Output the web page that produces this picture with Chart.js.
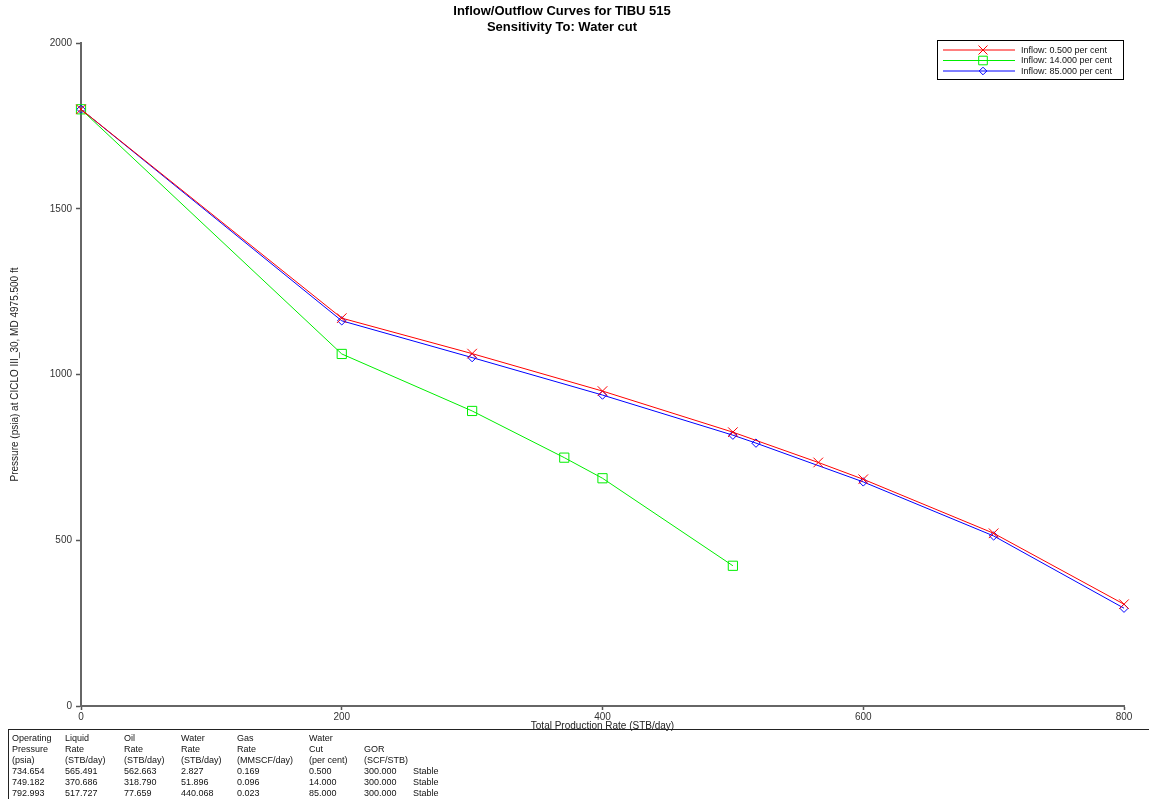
<!DOCTYPE html>
<html><head><meta charset="utf-8">
<script src="https://cdn.jsdelivr.net/npm/chart.js@4/dist/chart.umd.min.js"></script>
<style>
html,body{margin:0;padding:0;background:#fff;}
#wrap{position:relative;width:1149px;height:799px;overflow:hidden;}
#c{position:absolute;left:0;top:0;}
#tbl{position:absolute;left:8px;top:729px;width:1141px;height:70px;border-top:1px solid #222;border-left:1px solid #222;font:9px Arial,'Liberation Sans',sans-serif;color:#111;}
.cell{position:absolute;white-space:nowrap;line-height:11px;}
</style></head>
<body><div id="wrap"><canvas id="c" width="1149" height="799"></canvas><div id="tbl"></div></div>
<script>
// ---- data ----
const chartTitle = ['Inflow/Outflow Curves for TIBU 515', 'Sensitivity To: Water cut'];
const xAxisTitle = 'Total Production Rate (STB/day)';
const yAxisTitle = 'Pressure (psia) at CICLO III_30, MD 4975.500 ft';
const seriesNames = ['Inflow: 0.500 per cent', 'Inflow: 14.000 per cent', 'Inflow: 85.000 per cent'];
const rateA  = [0, 200, 300, 400, 500, 565.491, 600, 700, 800];
const pressA = [1800, 1170, 1063, 950, 826, 734.654, 684, 521, 307];
const rateB  = [0, 200, 300, 370.686, 400, 500];
const pressB = [1800, 1062, 890, 749.182, 687, 423];
const rateC  = [0, 200, 300, 400, 500, 517.727, 600, 700, 800];
const pressC = [1800, 1162, 1051, 938, 817, 792.993, 676, 513, 295];
const xTicks = [0, 200, 400, 600, 800];
const yTicks = [0, 500, 1000, 1500, 2000];
const tableHeader = [
  ['Operating', 'Pressure', '(psia)'],
  ['Liquid', 'Rate', '(STB/day)'],
  ['Oil', 'Rate', '(STB/day)'],
  ['Water', 'Rate', '(STB/day)'],
  ['Gas', 'Rate', '(MMSCF/day)'],
  ['Water', 'Cut', '(per cent)'],
  ['', 'GOR', '(SCF/STB)'],
  ['', '', '']
];
const tableRows = [
  ['734.654', '565.491', '562.663', '2.827', '0.169', '0.500', '300.000', 'Stable'],
  ['749.182', '370.686', '318.790', '51.896', '0.096', '14.000', '300.000', 'Stable'],
  ['792.993', '517.727', '77.659', '440.068', '0.023', '85.000', '300.000', 'Stable']
];

// ---- table (HTML text) ----
const colX = [3, 56, 115, 172, 228, 300, 355, 404];
const tbl = document.getElementById('tbl');
function addCell(txt, col, row) {
  if (!txt) return;
  const d = document.createElement('div');
  d.className = 'cell';
  d.textContent = txt;
  d.style.left = colX[col] + 'px';
  d.style.top = (3 + row * 11) + 'px';
  tbl.appendChild(d);
}
tableHeader.forEach((lines, c) => lines.forEach((t, r) => addCell(t, c, r)));
tableRows.forEach((vals, r) => vals.forEach((t, c) => addCell(t, c, r + 3)));

// ---- chart ----
const FONT = "Arial, 'Liberation Sans', sans-serif";
const toXY = (xs, ys) => xs.map((x, i) => ({x: x, y: ys[i]}));
const colors = ['#ff0000', '#00ee00', '#0000ff'];
const markers = ['crossRot', 'rect', 'rectRot'];

function drawMarker(ctx, type, x, y, s, color) {
  ctx.save();
  ctx.strokeStyle = color; ctx.lineWidth = 1;
  ctx.beginPath();
  if (type === 'crossRot') {
    ctx.moveTo(x - s, y - s); ctx.lineTo(x + s, y + s);
    ctx.moveTo(x - s, y + s); ctx.lineTo(x + s, y - s);
  } else if (type === 'rect') {
    ctx.rect(x - s, y - s, 2 * s, 2 * s);
  } else {
    ctx.moveTo(x, y - s); ctx.lineTo(x + s, y); ctx.lineTo(x, y + s); ctx.lineTo(x - s, y); ctx.closePath();
  }
  ctx.stroke();
  ctx.restore();
}

const boxLegend = {
  id: 'boxLegend',
  afterDraw(chart) {
    const ctx = chart.ctx;
    const x0 = 937, y0 = 40, w = 186, h = 39;
    ctx.save();
    ctx.fillStyle = '#fff';
    ctx.fillRect(x0, y0, w, h);
    ctx.strokeStyle = '#000'; ctx.lineWidth = 1;
    ctx.strokeRect(x0 + 0.5, y0 + 0.5, w, h);
    ctx.font = '9px ' + FONT;
    ctx.textBaseline = 'middle';
    chart.data.datasets.forEach((ds, i) => {
      const y = y0 + 10 + i * 10.5;
      ctx.strokeStyle = ds.borderColor; ctx.lineWidth = 1;
      ctx.beginPath(); ctx.moveTo(x0 + 6, y); ctx.lineTo(x0 + 78, y); ctx.stroke();
      drawMarker(ctx, ds.pointStyle, x0 + 46, y, i === 0 ? 4.5 : (i === 1 ? 4.3 : 3.8), ds.borderColor);
      ctx.fillStyle = '#111';
      ctx.fillText(ds.label, x0 + 84, y + 0.5);
    });
    ctx.restore();
  }
};

const mkDs = (label, xs, ys, i, r) => ({
  label: label,
  data: toXY(xs, ys),
  borderColor: colors[i],
  backgroundColor: 'rgba(0,0,0,0)',
  pointBorderColor: colors[i],
  pointBackgroundColor: 'rgba(0,0,0,0)',
  borderWidth: 1,
  pointBorderWidth: 1,
  pointStyle: markers[i],
  pointRadius: r,
  pointHoverRadius: r,
  tension: 0,
  fill: false,
  clip: false
});

const plainTick = v => String(v);

new Chart(document.getElementById('c'), {
  type: 'line',
  data: {
    datasets: [
      mkDs(seriesNames[0], rateA, pressA, 0, 6.8),
      mkDs(seriesNames[1], rateB, pressB, 1, 6.5),
      mkDs(seriesNames[2], rateC, pressC, 2, 4.2)
    ]
  },
  options: {
    responsive: false,
    animation: false,
    events: [],
    layout: {padding: {left: 0, right: 25, top: 0, bottom: 67}},
    plugins: {
      legend: {display: false},
      tooltip: {enabled: false},
      title: {
        display: true,
        text: chartTitle,
        color: '#000',
        font: {family: FONT, size: 13, weight: 'bold', lineHeight: 1.2},
        padding: {top: 4, bottom: 7.8}
      }
    },
    scales: {
      x: {
        type: 'linear', min: 0, max: 800,
        afterBuildTicks: s => { s.ticks = xTicks.map(v => ({value: v})); },
        afterFit: s => { s.height = 26; },
        ticks: {color: '#333', font: {family: FONT, size: 10}, padding: 1, maxRotation: 0, callback: plainTick},
        grid: {drawOnChartArea: false, drawTicks: true, tickLength: 4, tickColor: '#555', tickWidth: 1.5},
        border: {display: true, color: '#666', width: 2},
        title: {display: true, text: xAxisTitle, color: '#222', font: {family: FONT, size: 10}, padding: {top: 0, bottom: 0}}
      },
      y: {
        type: 'linear', min: 0, max: 2000,
        afterBuildTicks: s => { s.ticks = yTicks.map(v => ({value: v})); },
        afterFit: s => { s.width = 81; },
        ticks: {color: '#333', font: {family: FONT, size: 10}, padding: 4, callback: plainTick},
        grid: {drawOnChartArea: false, drawTicks: true, tickLength: 5, tickColor: '#555', tickWidth: 1.5},
        border: {display: true, color: '#666', width: 2},
        title: {display: true, text: yAxisTitle, color: '#222', font: {family: FONT, size: 10}, padding: {top: 9, bottom: 0}}
      }
    }
  },
  plugins: [boxLegend]
});
</script>
</body></html>
